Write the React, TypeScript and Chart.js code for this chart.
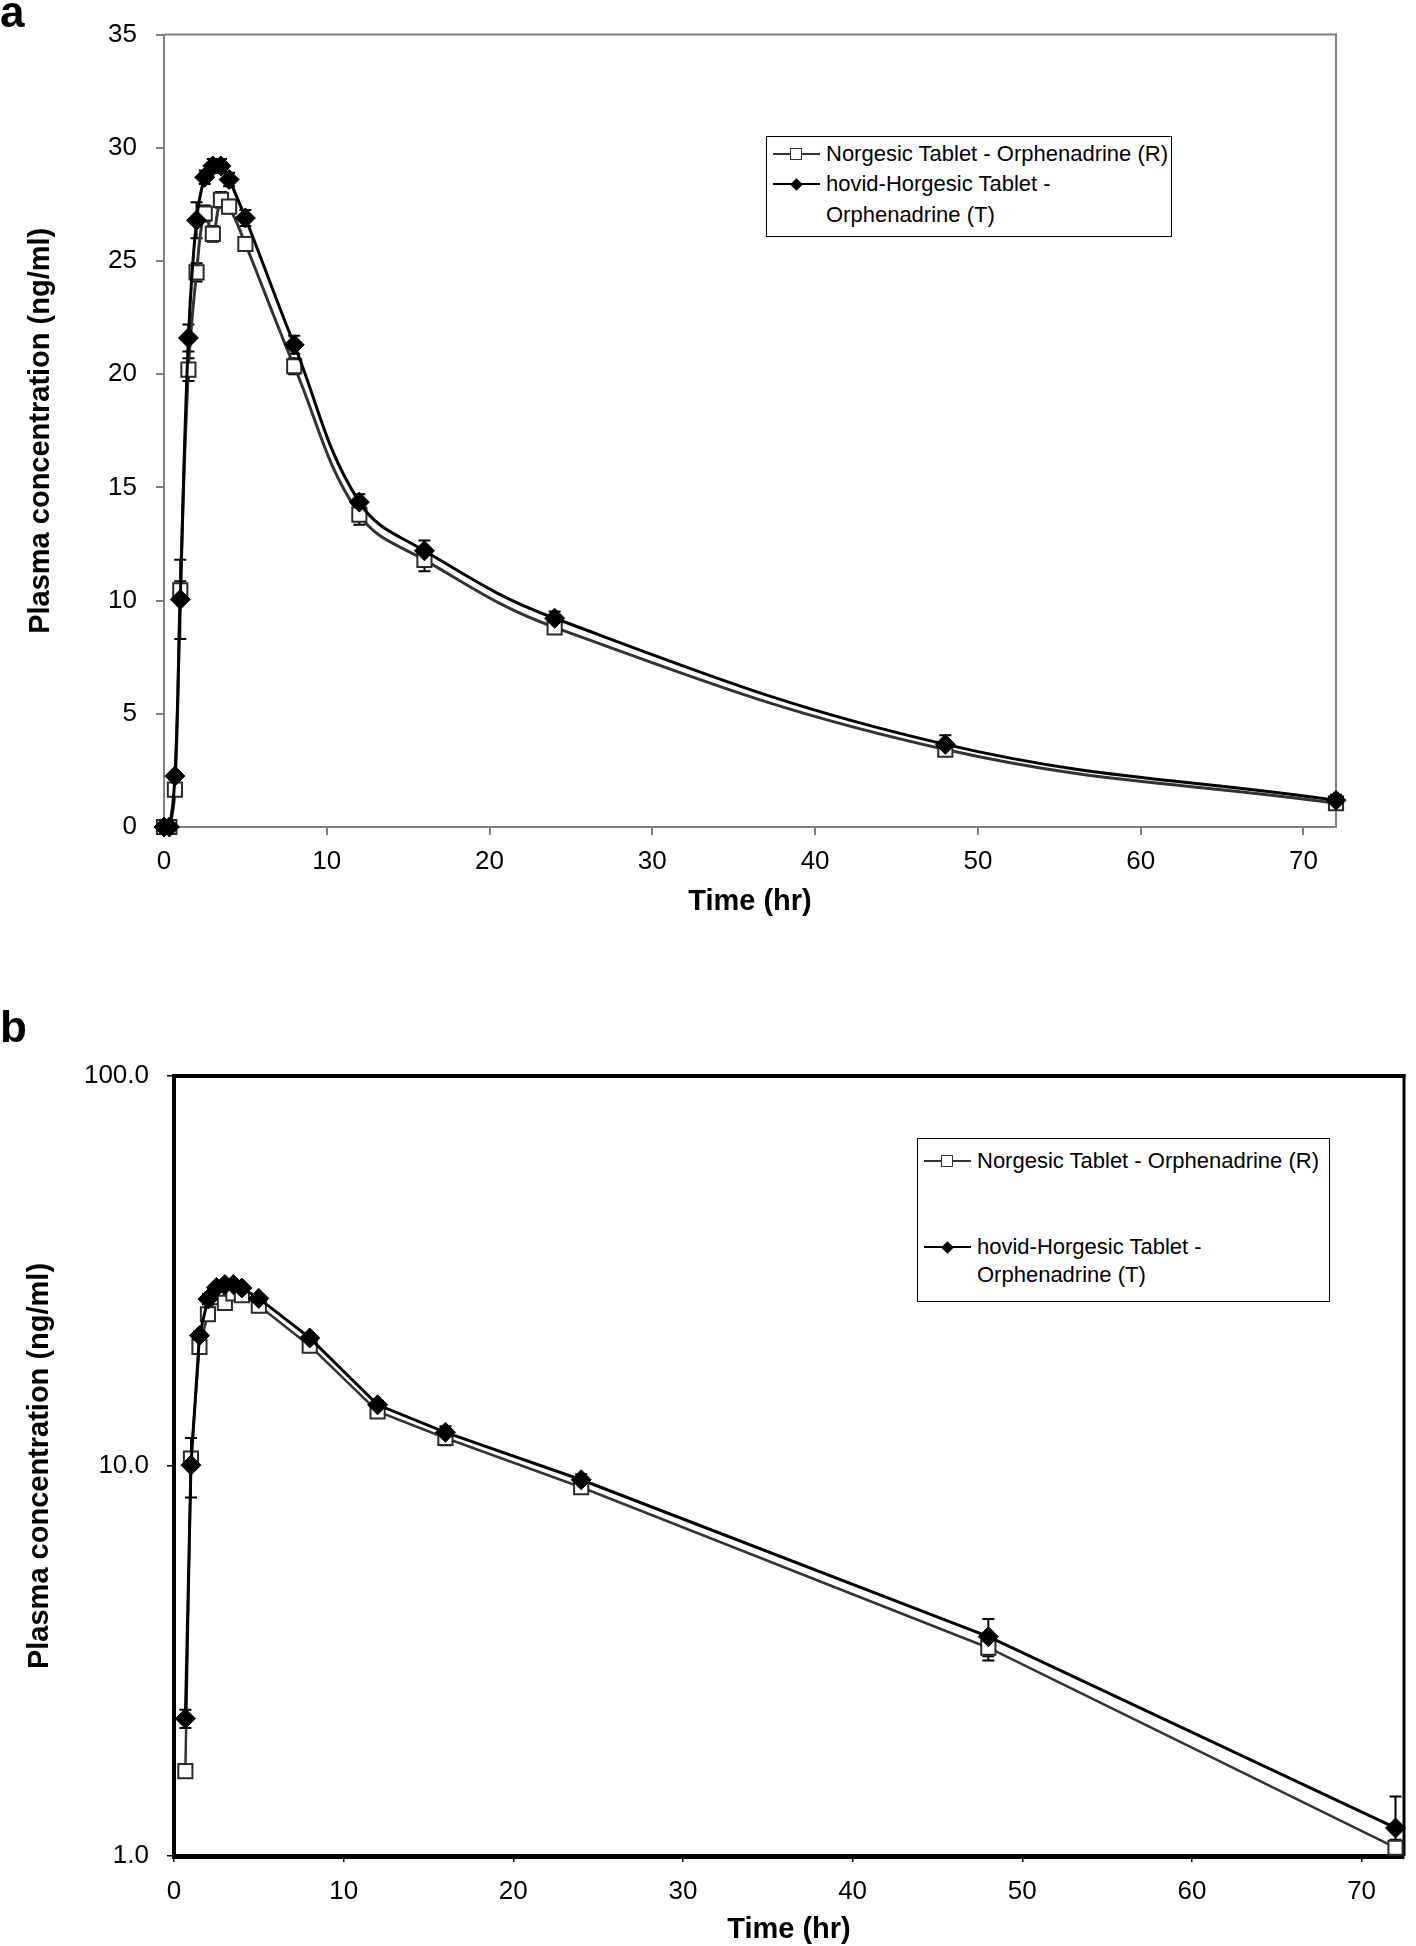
import React, { useEffect, useRef } from 'react';
import { Chart, registerables } from 'chart.js';

Chart.register(...registerables);

// ---------------- data ----------------
const timeHr = [0, 0.33, 0.67, 1, 1.5, 2, 2.5, 3, 3.5, 4, 5, 8, 12, 16, 24, 48, 72];
const refR = [0, 0, 1.65, 10.45, 20.2, 24.5, 27.1, 26.2, 27.7, 27.4, 25.75, 20.35, 13.8, 11.8, 8.82, 3.42, 1.05];
const testT = [0, 0, 2.25, 10.05, 21.6, 26.8, 28.7, 29.2, 29.2, 28.6, 26.9, 21.3, 14.35, 12.2, 9.22, 3.65, 1.18];
const sdR = [0, 0, 0, 0.4, 0.5, 0.4, 0.35, 0.35, 0.35, 0.3, 0.3, 0.35, 0.45, 0.5, 0.3, 0.25, 0.05];
const sdT = [0, 0, 0.12, 1.75, 0.6, 0.8, 0.3, 0.3, 0.3, 0.3, 0.35, 0.4, 0.35, 0.45, 0.3, 0.4, 0.24];

const seriesR = 'Norgesic Tablet - Orphenadrine (R)';
const seriesTLine1 = 'hovid-Horgesic Tablet -';
const seriesTLine2 = 'Orphenadrine (T)';
const xTitle = 'Time (hr)';
const yTitle = 'Plasma concentration (ng/ml)';
const xTickValues = [0, 10, 20, 30, 40, 50, 60, 70];
const linYTickValues = [0, 5, 10, 15, 20, 25, 30, 35];
const logYTickValues = [1, 10, 100];
const panelLabels = ['a', 'b'];

const FONT = '"Liberation Sans", Arial, Helvetica, sans-serif';
Chart.defaults.font.family = FONT;
Chart.defaults.color = '#000';

function errorBarPlugin(errs: number[][]) {
  return {
    id: 'errorBars',
    beforeDatasetsDraw(chart: any) {
      const { ctx, chartArea } = chart;
      const x = chart.scales.x;
      const y = chart.scales.y;
      ctx.save();
      ctx.strokeStyle = '#000';
      ctx.lineWidth = 2;
      chart.data.datasets.forEach((ds: any, di: number) => {
        const sd = errs[di];
        ds.data.forEach((p: any, i: number) => {
          if (p.y == null || !sd[i]) return;
          const px = x.getPixelForValue(p.x);
          const hi = y.getPixelForValue(p.y + sd[i]);
          const loVal = p.y - sd[i];
          const below = loVal <= y.min;
          const lo = below ? chartArea.bottom : y.getPixelForValue(loVal);
          ctx.beginPath();
          ctx.moveTo(px, hi);
          ctx.lineTo(px, lo);
          ctx.moveTo(px - 6, hi);
          ctx.lineTo(px + 6, hi);
          if (!below) {
            ctx.moveTo(px - 6, lo);
            ctx.lineTo(px + 6, lo);
          }
          ctx.stroke();
        });
      });
      ctx.restore();
    },
  };
}

function framePlugin(color: string, topW: number, rightW: number) {
  return {
    id: 'frame',
    beforeDatasetsDraw(chart: any) {
      const { ctx, chartArea: a } = chart;
      ctx.save();
      ctx.strokeStyle = color;
      ctx.lineWidth = topW;
      ctx.beginPath();
      ctx.moveTo(a.left, a.top);
      ctx.lineTo(a.right + rightW / 2, a.top);
      ctx.stroke();
      ctx.lineWidth = rightW;
      ctx.beginPath();
      ctx.moveTo(a.right, a.top - topW / 2);
      ctx.lineTo(a.right, a.bottom);
      ctx.stroke();
      ctx.restore();
    },
  };
}

function buildChart(canvas: HTMLCanvasElement, log: boolean) {
  const H = log ? 986 : 960;
  const areaLeft = log ? 174 : 164;
  const areaTop = log ? 116 : 32;
  const areaRight = log ? 1415 : 1336;
  const areaBottom = log ? 896 : 827;
  const xMax = log ? 72.5 : 72;
  const axisColor = log ? '#000' : '#808080';
  const tickFont = 26;
  const toPts = (vals: number[]) =>
    timeHr.map((t, i) => ({ x: t, y: log && vals[i] <= 0 ? null : vals[i] }));

  return new Chart(canvas, {
    type: 'line',
    data: {
      datasets: [
        {
          label: seriesR,
          data: toPts(refR) as any,
          borderColor: '#333',
          borderWidth: log ? 2.5 : 3,
          pointStyle: 'rect',
          pointRadius: 10,
          pointBackgroundColor: '#fff',
          pointBorderColor: '#2a2a2a',
          pointBorderWidth: 2,
          tension: log ? 0 : 0.4,
          clip: false as any,
          order: 1,
        },
        {
          label: seriesTLine1 + ' ' + seriesTLine2,
          data: toPts(testT) as any,
          borderColor: '#000',
          borderWidth: 3,
          pointStyle: 'rectRot',
          pointRadius: 10,
          pointBackgroundColor: '#000',
          pointBorderColor: '#000',
          pointBorderWidth: 1,
          tension: log ? 0 : 0.4,
          clip: false as any,
          order: 0,
        },
      ],
    },
    options: {
      responsive: false,
      animation: false,
      events: [],
      layout: { padding: { left: 0, top: areaTop, right: 1416 - areaRight, bottom: 0 } },
      plugins: { legend: { display: false }, tooltip: { enabled: false } },
      scales: {
        x: {
          type: 'linear',
          min: 0,
          max: xMax,
          afterBuildTicks: (s: any) => {
            s.ticks = xTickValues.map((v) => ({ value: v }));
          },
          afterFit: (s: any) => {
            s.height = H - areaBottom;
          },
          ticks: { font: { size: tickFont }, color: '#000', padding: log ? 14 : 11 },
          grid: {
            display: true,
            drawOnChartArea: false,
            drawTicks: true,
            tickLength: log ? 6 : 8,
            color: axisColor,
            lineWidth: log ? 1.5 : 2,
          },
          border: { display: true, color: axisColor, width: log ? 5 : 2 },
          title: {
            display: true,
            text: xTitle,
            font: { size: 29, weight: 'bold' },
            color: '#000',
            padding: { top: 0, bottom: log ? -1 : 40.6 },
          },
        },
        y: log
          ? {
              type: 'logarithmic',
              min: 1,
              max: 100,
              afterBuildTicks: (s: any) => {
                s.ticks = logYTickValues.map((v) => ({ value: v }));
              },
              afterFit: (s: any) => {
                s.width = areaLeft;
              },
              ticks: {
                font: { size: tickFont },
                color: '#000',
                padding: 18,
                callback: (v: any) => Number(v).toFixed(1),
              },
              grid: { display: true, drawOnChartArea: false, drawTicks: true, tickLength: 7, color: '#000', lineWidth: 1.5 },
              border: { display: true, color: '#000', width: 4 },
              title: {
                display: true,
                text: yTitle,
                font: { size: 29, weight: 'bold' },
                color: '#000',
                padding: { top: 22.6, bottom: 0 },
              },
            }
          : {
              type: 'linear',
              min: 0,
              max: 35,
              afterBuildTicks: (s: any) => {
                s.ticks = linYTickValues.map((v) => ({ value: v }));
              },
              afterFit: (s: any) => {
                s.width = areaLeft;
              },
              ticks: { font: { size: tickFont }, color: '#000', padding: 19 },
              grid: { display: true, drawOnChartArea: false, drawTicks: true, tickLength: 8, color: '#808080', lineWidth: 2 },
              border: { display: true, color: '#808080', width: 2 },
              title: {
                display: true,
                text: yTitle,
                font: { size: 29, weight: 'bold' },
                color: '#000',
                padding: { top: 23.6, bottom: 0 },
              },
            },
      },
    } as any,
    plugins: [
      log ? framePlugin('#000', 4, 3) : framePlugin('#808080', 2, 2),
      errorBarPlugin([sdR, sdT]),
    ],
  });
}

function LegendSample({ x, y, kind }: { x: number; y: number; kind: 'R' | 'T' }) {
  return (
    <>
      <div
        style={{
          position: 'absolute',
          left: x,
          top: y - 1,
          width: 47,
          height: 2,
          background: kind === 'R' ? '#333' : '#000',
        }}
      />
      {kind === 'R' ? (
        <div
          style={{
            position: 'absolute',
            left: x + 17,
            top: y - 6,
            width: 10,
            height: 10,
            background: '#fff',
            border: '1.5px solid #333',
          }}
        />
      ) : (
        <div
          style={{
            position: 'absolute',
            left: x + 19,
            top: y - 4.5,
            width: 9,
            height: 9,
            background: '#000',
            transform: 'rotate(45deg)',
          }}
        />
      )}
    </>
  );
}

function LegendText({ x, y, text }: { x: number; y: number; text: string }) {
  return (
    <div
      style={{
        position: 'absolute',
        left: x,
        top: y - 13,
        fontSize: 22,
        lineHeight: '26px',
        whiteSpace: 'nowrap',
        color: '#000',
      }}
    >
      {text}
    </div>
  );
}

function Legend({
  left,
  top,
  width,
  height,
  rowY,
}: {
  left: number;
  top: number;
  width: number;
  height: number;
  rowY: number[];
}) {
  const sx = left + 7;
  const tx = left + 60;
  return (
    <>
      <div
        style={{
          position: 'absolute',
          left,
          top,
          width,
          height,
          border: '1.5px solid #000',
          boxSizing: 'border-box',
          background: '#fff',
        }}
      />
      <LegendSample x={sx} y={rowY[0]} kind="R" />
      <LegendText x={tx} y={rowY[0]} text={seriesR} />
      <LegendSample x={sx} y={rowY[1]} kind="T" />
      <LegendText x={tx} y={rowY[1]} text={seriesTLine1} />
      <LegendText x={tx} y={rowY[2]} text={seriesTLine2} />
    </>
  );
}

export default function App() {
  const topRef = useRef<HTMLCanvasElement>(null);
  const botRef = useRef<HTMLCanvasElement>(null);

  useEffect(() => {
    const c1 = buildChart(topRef.current as HTMLCanvasElement, false);
    const c2 = buildChart(botRef.current as HTMLCanvasElement, true);
    return () => {
      c1.destroy();
      c2.destroy();
    };
  }, []);

  const letterStyle: React.CSSProperties = {
    position: 'absolute',
    left: 0,
    fontSize: 44,
    lineHeight: '44px',
    fontWeight: 'bold',
    color: '#000',
  };

  return (
    <div
      style={{
        position: 'absolute',
        left: 0,
        top: 0,
        width: 1416,
        height: 1946,
        background: '#fff',
        fontFamily: FONT,
        overflow: 'hidden',
      }}
    >
      <canvas
        ref={topRef}
        width={1416}
        height={960}
        style={{ position: 'absolute', left: 0, top: 0, width: 1416, height: 960 }}
      />
      <canvas
        ref={botRef}
        width={1416}
        height={986}
        style={{ position: 'absolute', left: 0, top: 960, width: 1416, height: 986 }}
      />
      <div style={{ ...letterStyle, top: -10 }}>{panelLabels[0]}</div>
      <div style={{ ...letterStyle, top: 1005 }}>{panelLabels[1]}</div>
      <Legend left={766} top={136} width={406} height={101} rowY={[154, 184, 215]} />
      <Legend left={917} top={1138} width={413} height={164} rowY={[1161, 1247, 1275]} />
    </div>
  );
}
